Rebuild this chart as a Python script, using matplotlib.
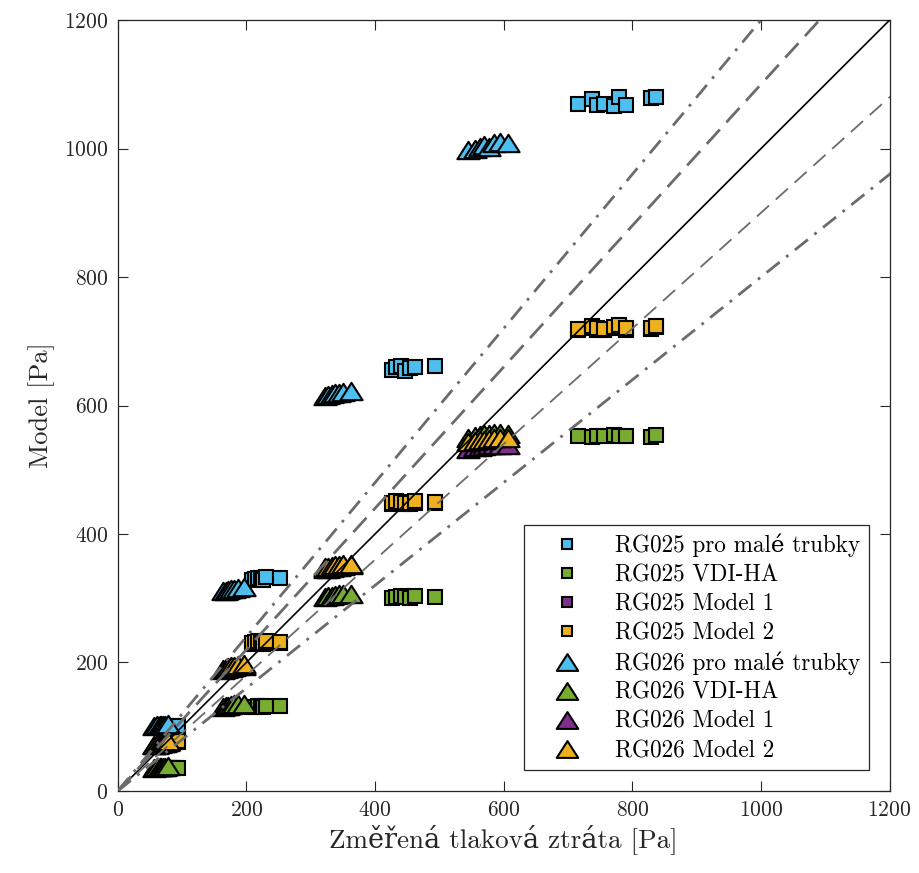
import numpy as np
import matplotlib
matplotlib.use("Agg")
import matplotlib.pyplot as plt
from matplotlib.lines import Line2D
from matplotlib.path import Path

plt.rcParams['font.family'] = ['cmr10', 'DejaVu Serif']
plt.rcParams['axes.formatter.use_mathtext'] = True
plt.rcParams['mathtext.fontset'] = 'cm'

# measured pressure drop [Pa]
x_rg025 = [72, 76, 80, 83, 86, 89, 94,
           208, 213, 218, 222, 226, 231, 253,
           426, 432, 440, 447, 455, 462, 493,
           715, 738, 745, 756, 772, 780, 790, 829, 836]
x_rg026 = [57, 61, 65, 68, 71, 74, 78,
           163, 168, 172, 176, 181, 187, 196,
           322, 327, 333, 338, 344, 350, 362,
           545, 556, 563, 570, 577, 585, 594, 607]

# model values [Pa]
rg025_male = [99, 100, 100, 101, 100, 101, 101,
              328, 330, 332, 331, 329, 333, 331,
              655, 660, 662, 654, 658, 660, 661,
              1069, 1077, 1068, 1070, 1066, 1080, 1068, 1078, 1081]
rg025_vdi = [35, 35, 36, 36, 35, 36, 36,
             130, 131, 133, 132, 131, 133, 132,
             300, 302, 303, 302, 301, 303, 302,
             553, 551, 553, 552, 554, 553, 552, 551, 554]
rg025_m1 = [74, 75, 76, 76, 75, 76, 76,
            228, 230, 231, 230, 229, 231, 230,
            446, 449, 448, 447, 446, 449, 448,
            717, 721, 718, 717, 720, 723, 718, 719, 722]
rg025_m2 = [76, 77, 78, 78, 77, 78, 78,
            230, 232, 233, 232, 231, 233, 232,
            448, 451, 450, 449, 448, 451, 450,
            719, 723, 720, 719, 722, 725, 720, 721, 724]

rg026_male = [101, 102, 102, 103, 103, 103, 104,
              311, 312, 313, 314, 315, 316, 318,
              615, 617, 618, 619, 620, 621, 623,
              997, 1000, 1003, 1005, 1002, 1008, 1010, 1009]
rg026_vdi = [36, 37, 37, 38, 38, 38, 39,
             131, 132, 133, 134, 135, 135, 136,
             302, 303, 304, 305, 306, 306, 307,
             550, 552, 554, 555, 556, 557, 557, 555]
rg026_m1 = [71, 72, 73, 74, 74, 75, 76,
            188, 190, 191, 192, 193, 194, 195,
            345, 346, 347, 348, 349, 350, 351,
            533, 535, 536, 537, 538, 538, 539, 539]
rg026_m2 = [72, 73, 74, 75, 75, 76, 77,
            190, 192, 193, 194, 195, 196, 197,
            348, 349, 350, 351, 352, 353, 354,
            543, 545, 546, 547, 548, 549, 550, 550]

labels = ['pro malé trubky', 'VDI-HA', 'Model 1', 'Model 2']
colors = ['#4DBEEE', '#77AC30', '#7E2F8E', '#EDB120']

# MATLAB-like triangle (wider than tall)
tri = Path([(-1, -0.78), (1, -0.78), (0, 0.78), (-1, -0.78)],
           [Path.MOVETO, Path.LINETO, Path.LINETO, Path.CLOSEPOLY])

fig = plt.figure(figsize=(9.2, 8.73), dpi=100)
ax = fig.add_axes([0.128, 0.094, 0.839, 0.883])

for y, c in zip([rg025_male, rg025_vdi, rg025_m1, rg025_m2], colors):
    ax.plot(x_rg025, y, ls='none', marker='s', ms=9.6, mfc=c, mec='black', mew=1.5, zorder=2)
for y, c in zip([rg026_male, rg026_vdi, rg026_m1, rg026_m2], colors):
    ax.plot(x_rg026, y, ls='none', marker=tri, ms=16, mfc=c, mec='black', mew=1.5, zorder=2)

xx = np.array([0, 1500])
ax.plot(xx, xx, color='black', lw=1.2, zorder=3)
ax.plot(xx, 1.1 * xx, color='#6b6b6b', lw=2.0, dashes=(7, 3.5), zorder=3)
ax.plot(xx, 0.9 * xx, color='#6b6b6b', lw=1.3, dashes=(9, 5), zorder=3)
ax.plot(xx, 1.2 * xx, color='#6b6b6b', lw=2.0, dashes=(6, 3, 1, 3), zorder=3)
ax.plot(xx, 0.8 * xx, color='#6b6b6b', lw=2.0, dashes=(6, 3, 1, 3), zorder=3)

ax.set_xlim(0, 1200)
ax.set_ylim(0, 1200)
ax.set_xticks(np.arange(0, 1201, 200))
ax.set_yticks(np.arange(0, 1201, 200))
ax.tick_params(direction='in', length=7, width=0.8, top=True, right=True,
               labelsize=15.5, colors='#262626', pad=7)
for s in ax.spines.values():
    s.set_color('#262626')
    s.set_linewidth(0.9)
ax.set_xlabel('Změřená tlaková ztráta [Pa]', fontsize=19.5, color='#262626', labelpad=3)
ax.set_ylabel('Model [Pa]', fontsize=19, color='#262626', labelpad=6)

handles = []
names = []
for c, lab in zip(colors, labels):
    handles.append(Line2D([], [], ls='none', marker='s', ms=7.5, mfc=c, mec='black', mew=1.5))
    names.append('RG025 ' + lab)
for c, lab in zip(colors, labels):
    handles.append(Line2D([], [], ls='none', marker=tri, ms=15.5, mfc=c, mec='black', mew=1.5))
    names.append('RG026 ' + lab)
leg = ax.legend(handles, names, loc='lower right', bbox_to_anchor=(0.973, 0.027),
                fontsize=16.7, frameon=True, fancybox=False, framealpha=1,
                edgecolor='#262626', handlelength=3.0, handletextpad=0.6,
                borderpad=0.35, labelspacing=0.3, borderaxespad=0)
leg.get_frame().set_linewidth(0.9)
leg.set_zorder(5)

fig.savefig('out.png', dpi=100)
